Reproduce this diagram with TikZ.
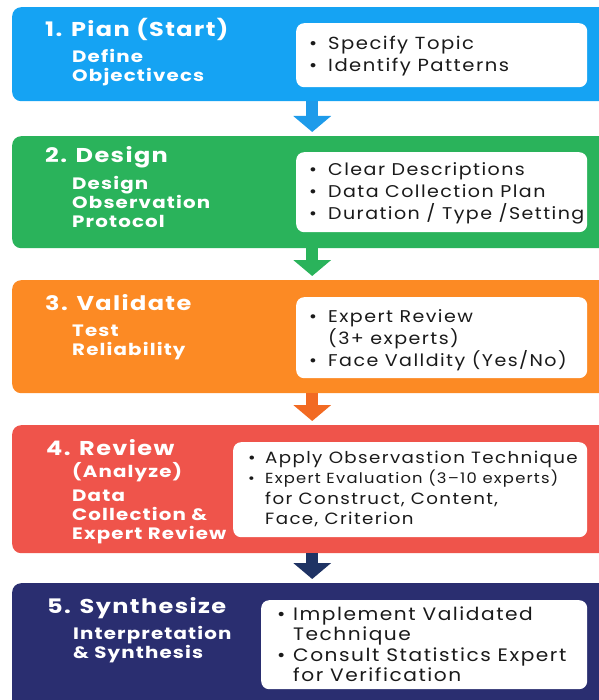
\documentclass[tikz,border=0pt]{standalone}
\usepackage{fontspec}
\setmainfont{Poppins}
\newfontfamily\headfont{Poppins}[FakeStretch=1.2, LetterSpace=7]
\newfontfamily\listfont{Poppins}[FakeStretch=1.12, LetterSpace=8.5]
\usetikzlibrary{arrows.meta}

\definecolor{planblue}{HTML}{15A3F3}
\definecolor{designgreen}{HTML}{2AB35B}
\definecolor{validorange}{HTML}{FC8A24}
\definecolor{reviewred}{HTML}{EF544B}
\definecolor{synthnavy}{HTML}{2A2E70}
\definecolor{arrowblue}{HTML}{1E9BEA}
\definecolor{arroworange}{HTML}{F26A22}
\definecolor{arrownavy}{HTML}{1F3364}
\definecolor{ink}{HTML}{1A1A1A}

% bullet with a fixed hanging indent
\newcommand{\bul}[1][19pt]{\makebox[#1][l]{•}\ignorespaces}

\tikzset{
	stage/.style={rectangle, rounded corners=9pt, anchor=north west, inner sep=0pt, minimum width=600pt},
	card/.style={rectangle, rounded corners=8pt, fill=white, anchor=north west, inner sep=0pt},
	title/.style={anchor=base west, inner sep=0pt, text=white, font=\headfont\bfseries\fontsize{20}{24}\selectfont},
	sub/.style={anchor=base west, inner sep=0pt, text=white, font=\headfont\bfseries\fontsize{16.5}{19}\selectfont},
	items/.style={anchor=base west, inner sep=0pt, text=ink, font=\listfont\fontsize{17}{21.5}\selectfont},
	flow/.style={line width=12pt, -{Triangle[width=37pt,length=16pt]}, shorten >=4pt}
}

\begin{document}
\begin{tikzpicture}[x=1pt, y=-1pt]
	\useasboundingbox (0,0) rectangle (598,700);
	% stages
	\node[stage, fill=planblue, minimum height=94pt] (plan) at (12,7) {};
	\node[stage, fill=designgreen, minimum height=112pt] (design) at (12,136) {};
	\node[stage, fill=validorange, minimum height=113pt] (validate) at (12,280) {};
	\node[stage, fill=reviewred, minimum height=128pt] (review) at (12,425) {};
	\node[stage, fill=synthnavy, minimum height=130pt] (synth) at (12,583) {};
	% arrows between stages
	\draw[flow, color=arrowblue] (plan.south) -- (design.north);
	\draw[flow, color=designgreen] (design.south) -- (validate.north);
	\draw[flow, color=arroworange] (validate.south) -- (review.north);
	\draw[flow, color=arrownavy] (review.south) -- (synth.north);
	% titles and labels
	\node[title] (plantitle) at (45,37) {1. Pian (Start)};
	\node[sub] (plansub) at (72,63) {\begin{tabular}[t]{@{}l@{}}Define\\Objectivecs\end{tabular}};
	\node[title] (designtitle) at (45,163) {2. Design};
	\node[sub] (designsub) at (72,190) {\begin{tabular}[t]{@{}l@{}}Design\\Observation\\Protocol\end{tabular}};
	\node[title] (validtitle) at (45,310) {3. Validate};
	\node[sub] (validsub) at (72,336) {\begin{tabular}[t]{@{}l@{}}Test\\Reliability\end{tabular}};
	\node[title] (reviewtitle) at (46,455) {4. Review};
	\node[sub] (reviewsub) at (72,477) {(Analyze)};
	\node[sub] (reviewsubb) at (72,501) {\begin{tabular}[t]{@{}l@{}}Data\\Collection \&\\Expert Review\end{tabular}};
	\node[title] (synthtitle) at (47,613) {5. Synthesize};
	\node[sub] (synthsub) at (73,639) {\begin{tabular}[t]{@{}l@{}}Interpretation\\\& Synthesis\end{tabular}};
	% white cards
	\node[card, minimum width=291pt, minimum height=64pt] (plancard) at (296,23) {};
	\node[card, minimum width=291pt, minimum height=80pt] (designcard) at (296,152) {};
	\node[card, minimum width=291pt, minimum height=81pt] (validcard) at (296,297) {};
	\node[card, minimum width=354pt, minimum height=95pt] (reviewcard) at (233,442) {};
	\node[card, minimum width=326pt, minimum height=89pt] (synthcard) at (261,600) {};
	% bullet lists
	\node[items, font=\listfont\fontsize{17.5}{22}\selectfont] (planitems) at (309,50) {\begin{tabular}[t]{@{}l@{}}
		\bul Specify Topic\\
		\bul Identify Patterns\end{tabular}};
	\node[items] (designitems) at (309,176) {\begin{tabular}[t]{@{}l@{}}
		\bul Clear Descriptions\\
		\bul Data Collection Plan\\
		\bul Duration / Type /Setting\end{tabular}};
	\node[items] (validitems) at (309,322) {\begin{tabular}[t]{@{}l@{}}
		\bul Expert Review\\
		\hspace{19pt}(3+ experts)\\
		\bul Face Valldity (Yes/No)\end{tabular}};
	\node[items, font=\listfont\fontsize{16.3}{20.5}\selectfont] (reviewitems) at (248,463) {\begin{tabular}[t]{@{}l@{}}
		\bul[17pt] Apply Observastion Technique\\
		{\fontsize{14.6}{20}\selectfont\bul[17pt] Expert Evaluation (3–10 experts)}\\
		\hspace{17pt}for Construct, Content,\\
		\hspace{17pt}Face, Criterion\end{tabular}};
	\node[items, font=\listfont\fontsize{18}{20.5}\selectfont] (synthitems) at (277,620) {\begin{tabular}[t]{@{}l@{}}
		\bul[16pt] Implement Validated\\
		\hspace{16pt}Technique\\
		\bul[16pt] Consult Statistics Expert\\
		\hspace{16pt}for Verification\end{tabular}};
\end{tikzpicture}
\end{document}
